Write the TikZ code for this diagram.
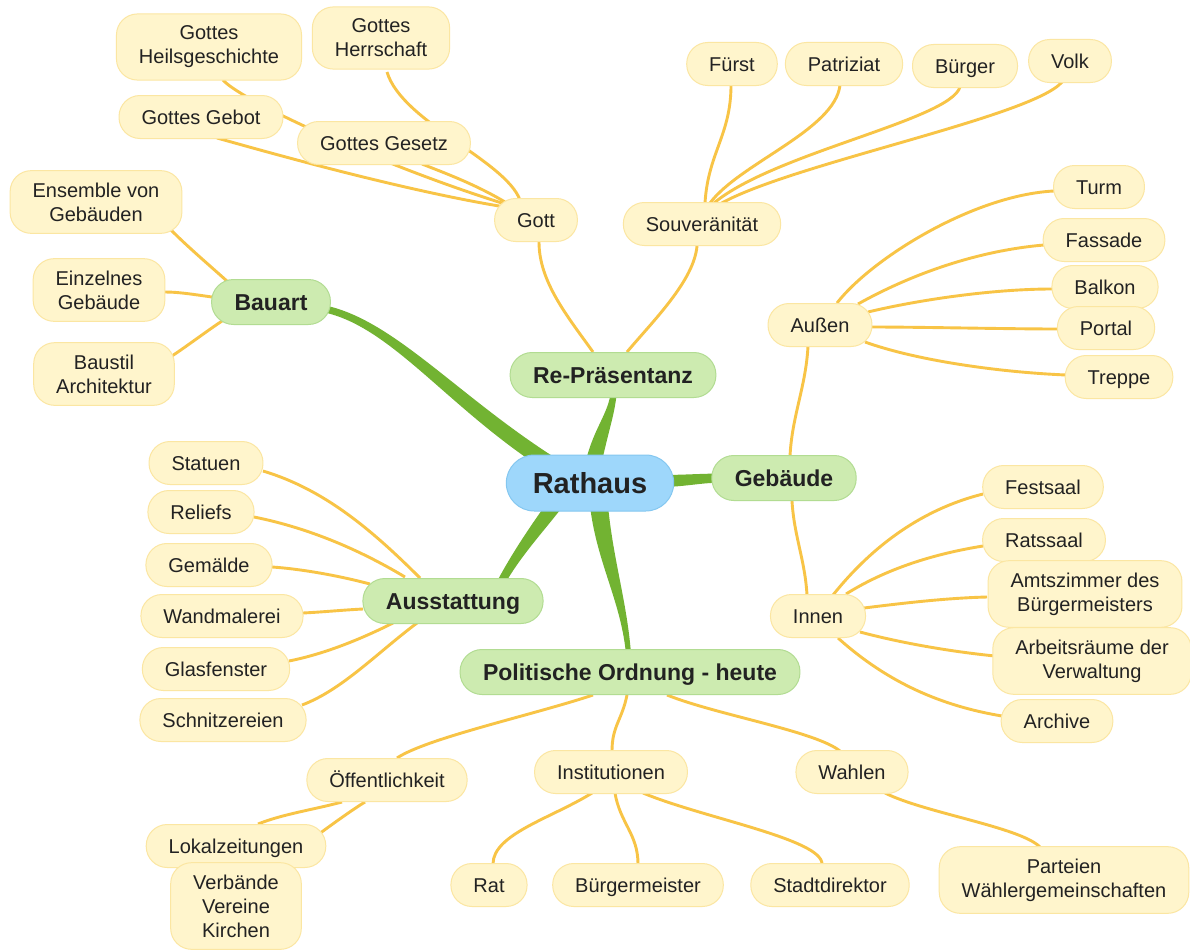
\documentclass[tikz,border=0pt]{standalone}
\usepackage{fontspec}
\setmainfont{Liberation Sans}
\usetikzlibrary{calc,backgrounds}
\definecolor{ylfill}{HTML}{FFF5CC}
\definecolor{yldraw}{HTML}{FBE6A2}
\definecolor{ylline}{HTML}{F8C446}
\definecolor{grfill}{HTML}{CDEBB0}
\definecolor{grdraw}{HTML}{B2DC92}
\definecolor{grline}{HTML}{72B332}
\definecolor{blfill}{HTML}{9ED7FB}
\definecolor{bldraw}{HTML}{84C7F0}
\definecolor{txt}{HTML}{222222}
\tikzset{
  base/.style={rectangle, text=txt, line width=1pt},
  leaf/.style={base, fill=ylfill, draw=yldraw, rounded corners=21pt, minimum height=43pt,
    inner xsep=22.5pt, inner ysep=12pt, font=\fontsize{20}{24}\selectfont, align=center},
  leafone/.style={base, fill=ylfill, draw=yldraw, rounded corners=21pt, minimum height=43pt,
    inner xsep=22.5pt, inner ysep=0pt, font=\fontsize{20}{24}\selectfont, text height=14.4pt, text depth=0pt},
  mainnode/.style={base, fill=grfill, draw=grdraw, rounded corners=22pt, minimum height=45pt,
    inner xsep=23pt, inner ysep=0pt, font=\fontsize{23}{27}\selectfont\bfseries, text height=16.6pt, text depth=0pt},
  rootnode/.style={base, fill=blfill, draw=bldraw, rounded corners=28pt, minimum height=56pt,
    inner xsep=26.5pt, inner ysep=0pt, font=\fontsize{29}{34}\selectfont\bfseries, text height=21pt, text depth=0pt},
  conn/.style={draw=ylline, line width=2.9pt},
}
\newcommand\gbranch[6]{%
  \fill[grline] ($(#1)!#5!90:(#2)$) .. controls ($(#2)!#5!-90:(#1)$) and ($(#3)!#6!90:(#4)$) .. ($(#4)!#6!-90:(#3)$)
   -- ($(#4)!#6!90:(#3)$) .. controls ($(#3)!#6!-90:(#4)$) and ($(#2)!#5!90:(#1)$) .. ($(#1)!#5!-90:(#2)$) -- cycle;}
\begin{document}
\begin{tikzpicture}[x=1pt,y=-1pt]
\useasboundingbox (0,0) rectangle (1190,950);
% main nodes
\node[rootnode] (rat) at (590,483) {Rathaus};
\node[mainnode] (bau) at (271,302) {Bauart};
\node[mainnode] (rep) at (613,375) {Re-Präsentanz};
\node[mainnode] (geb) at (784,478) {Gebäude};
\node[mainnode] (aus) at (453,601) {Ausstattung};
\node[mainnode] (pol) at (630,672) {Politische Ordnung - heute};
% Gott
\node[leaf] (heil) at (209,47) {Gottes\\Heilsgeschichte};
\node[leaf] (herr) at (381,38) {Gottes\\Herrschaft};
\node[leafone] (gebot) at (201,117) {Gottes Gebot};
\node[leafone] (gesetz) at (384,143) {Gottes Gesetz};
\node[leafone] (gott) at (536,220) {Gott};
% Bauart
\node[leaf] (ens) at (96,202) {Ensemble von\\Gebäuden};
\node[leaf] (einz) at (99,290) {Einzelnes\\Gebäude};
\node[leaf] (baustil) at (104,374) {Baustil\\Architektur};
% Souveraenitaet
\node[leafone] (souv) at (702,224) {Souveränität};
\node[leafone] (fuerst) at (732,64) {Fürst};
\node[leafone] (patr) at (844,64) {Patriziat};
\node[leafone] (buerger) at (965,66) {Bürger};
\node[leafone] (volk) at (1070,61) {Volk};
% Aussen
\node[leafone] (aussen) at (820,325) {Außen};
\node[leafone] (turm) at (1099,187) {Turm};
\node[leafone] (fassade) at (1104,240) {Fassade};
\node[leafone] (balkon) at (1105,287) {Balkon};
\node[leafone] (portal) at (1106,328) {Portal};
\node[leafone] (treppe) at (1119,377) {Treppe};
% Innen
\node[leafone] (innen) at (818,616) {Innen};
\node[leafone] (festsaal) at (1043,487) {Festsaal};
\node[leafone] (ratssaal) at (1044,540) {Ratssaal};
\node[leaf] (amts) at (1085,594) {Amtszimmer des\\Bürgermeisters};
\node[leaf] (arbeit) at (1092,661) {Arbeitsräume der\\Verwaltung};
\node[leafone] (archive) at (1057,721) {Archive};
% Ausstattung
\node[leafone] (statuen) at (206,463) {Statuen};
\node[leafone] (reliefs) at (201,512) {Reliefs};
\node[leafone] (gemaelde) at (209,565) {Gemälde};
\node[leafone] (wand) at (222,616) {Wandmalerei};
\node[leafone] (glas) at (216,669) {Glasfenster};
\node[leafone] (schnitz) at (223,720) {Schnitzereien};
% Politische Ordnung
\node[leafone] (oeff) at (387,780) {Öffentlichkeit};
\node[leafone] (lokal) at (236,846) {Lokalzeitungen};
\node[leaf] (verb) at (236,906) {Verbände\\Vereine\\Kirchen};
\node[leafone] (inst) at (611,772) {Institutionen};
\node[leafone] (wahlen) at (852,772) {Wahlen};
\node[leafone] (rat2) at (489,885) {Rat};
\node[leafone] (bm) at (638,885) {Bürgermeister};
\node[leafone] (stadt) at (830,885) {Stadtdirektor};
\node[leaf] (part) at (1064,880) {Parteien\\Wählergemeinschaften};

\begin{pgfonlayer}{background}
\fill[white] (0,0) rectangle (1190,950);
% green branches
\coordinate (b1a) at ($(rat)+(-40,-19)$);
\coordinate (b1b) at ($(rat)+(-140,-83)$);
\coordinate (b1c) at ($(bau)+(119,18)$);
\coordinate (b1d) at ($(bau)+(49,6)$);
\gbranch{b1a}{b1b}{b1c}{b1d}{8pt}{3.5pt}
\coordinate (b2a) at ($(rat)+(2,-13)$);
\coordinate (b2b) at ($(rat)+(10,-53)$);
\coordinate (b2c) at ($(rep)+(-1,40)$);
\coordinate (b2d) at ($(rep)+(1,15)$);
\gbranch{b2a}{b2b}{b2c}{b2d}{8pt}{3pt}
\coordinate (b3a) at ($(rat)+(70,-2)$);
\coordinate (b3b) at ($(rat)+(95,-2)$);
\coordinate (b3c) at ($(geb)+(-84,0)$);
\coordinate (b3d) at ($(geb)+(-59,0)$);
\gbranch{b3a}{b3b}{b3c}{b3d}{6pt}{4.5pt}
\coordinate (b4a) at ($(rat)+(-28,12)$);
\coordinate (b4b) at ($(rat)+(-50,42)$);
\coordinate (b4c) at ($(aus)+(62,-46)$);
\coordinate (b4d) at ($(aus)+(44,-11)$);
\gbranch{b4a}{b4b}{b4c}{b4d}{7.5pt}{4pt}
\coordinate (b5a) at ($(rat)+(8,12)$);
\coordinate (b5b) at ($(rat)+(13,77)$);
\coordinate (b5c) at ($(pol)+(-5,-72)$);
\coordinate (b5d) at ($(pol)+(-1,-12)$);
\gbranch{b5a}{b5b}{b5c}{b5d}{9pt}{2.5pt}
% Bauart
\draw[conn] ($(bau)+(-43,-20)$) .. controls +(-20,-18) and +(18,18) .. ($(ens)+(75,28)$);
\draw[conn] ($(bau)+(-59,-5)$) .. controls +(-15,-2) and +(15,0) .. ($(einz)+(66,2)$);
\draw[conn] ($(bau)+(-49,19)$) .. controls +(-15,10) and +(15,-10) .. ($(baustil)+(68,-18)$);
% Re-Praesentanz
\draw[conn] ($(rep)+(-20,-23)$) .. controls +(-25,-35) and +(0,40) .. ($(gott)+(3,22)$);
\draw[conn] ($(rep)+(14,-23)$) .. controls +(25,-30) and +(-3,35) .. ($(souv)+(-5,22)$);
% Souveraenitaet
\draw[conn] ($(souv)+(3,-21)$) .. controls +(3,-50) and +(0,50) .. ($(fuerst)+(-1,21)$);
\draw[conn] ($(souv)+(8,-21)$) .. controls +(30,-40) and +(-5,45) .. ($(patr)+(-4,21)$);
\draw[conn] ($(souv)+(12,-21)$) .. controls +(60,-50) and +(-10,33) .. ($(buerger)+(-5,21)$);
\draw[conn] ($(souv)+(18,-20)$) .. controls +(70,-40) and +(-30,35) .. ($(volk)+(-8,21)$);
% Gott
\draw[conn] ($(gott)+(-16,-20)$) .. controls +(-15,-40) and +(15,50) .. ($(herr)+(6,34)$);
\draw[conn] ($(gott)+(-31,-18)$) .. controls +(-30,-18) and +(20,8) .. ($(gesetz)+(38,21)$);
\draw[conn] ($(gott)+(-31,-16)$) .. controls +(-125,-39) and +(17,20) .. ($(heil)+(14,33)$);
\draw[conn] ($(gott)+(-31,-13)$) .. controls +(-105,-17) and +(43,12) .. ($(gebot)+(16,21)$);
% Gebaeude
\draw[conn] ($(geb)+(6,-22)$) .. controls +(2,-40) and +(-2,40) .. ($(aussen)+(-12,21)$);
\draw[conn] ($(geb)+(8,23)$) .. controls +(2,35) and +(-2,-35) .. ($(innen)+(-11,-21)$);
% Aussen
\draw[conn] ($(aussen)+(17,-22)$) .. controls +(35,-45) and +(-80,4) .. ($(turm)+(-45,4)$);
\draw[conn] ($(aussen)+(38,-21)$) .. controls +(50,-28) and +(-70,6) .. ($(fassade)+(-60,5)$);
\draw[conn] ($(aussen)+(48,-13)$) .. controls +(50,-12) and +(-60,0) .. ($(balkon)+(-53,2)$);
\draw[conn] ($(aussen)+(51,2)$) .. controls +(50,0) and +(-50,0) .. ($(portal)+(-48,1)$);
\draw[conn] ($(aussen)+(45,17)$) .. controls +(50,18) and +(-70,-3) .. ($(treppe)+(-53,-2)$);
% Innen
\draw[conn] ($(innen)+(15,-21)$) .. controls +(40,-50) and +(-60,15) .. ($(festsaal)+(-60,7)$);
\draw[conn] ($(innen)+(28,-22)$) .. controls +(40,-25) and +(-50,8) .. ($(ratssaal)+(-61,6)$);
\draw[conn] ($(innen)+(46,-8)$) .. controls +(40,-5) and +(-40,1) .. ($(amts)+(-98,3)$);
\draw[conn] ($(innen)+(42,16)$) .. controls +(45,12) and +(-40,-4) .. ($(arbeit)+(-97,-5)$);
\draw[conn] ($(innen)+(20,22)$) .. controls +(50,45) and +(-60,-10) .. ($(archive)+(-55,-5)$);
% Ausstattung
\draw[conn] ($(aus)+(-33,-23)$) .. controls +(-50,-50) and +(60,18) .. ($(statuen)+(57,8)$);
\draw[conn] ($(aus)+(-48,-24)$) .. controls +(-50,-30) and +(50,10) .. ($(reliefs)+(53,5)$);
\draw[conn] ($(aus)+(-83,-17)$) .. controls +(-30,-8) and +(30,2) .. ($(gemaelde)+(63,2)$);
\draw[conn] ($(aus)+(-90,8)$) .. controls +(-20,1) and +(20,-1) .. ($(wand)+(81,-3)$);
\draw[conn] ($(aus)+(-60,22)$) .. controls +(-40,20) and +(30,-6) .. ($(glas)+(73,-8)$);
\draw[conn] ($(aus)+(-36,22)$) .. controls +(-40,30) and +(40,-15) .. ($(schnitz)+(79,-15)$);
% Politische Ordnung
\draw[conn] ($(pol)+(-37,23)$) .. controls +(-60,20) and +(30,-20) .. ($(oeff)+(10,-22)$);
\draw[conn] ($(pol)+(-3,23)$) .. controls +(-5,25) and +(0,-25) .. ($(inst)+(1,-21)$);
\draw[conn] ($(pol)+(37,23)$) .. controls +(50,20) and +(-25,-20) .. ($(wahlen)+(-12,-21)$);
\draw[conn] ($(oeff)+(-45,22)$) .. controls +(-30,8) and +(25,-10) .. ($(lokal)+(22,-22)$);
\draw[conn] ($(oeff)+(-22,22)$) .. controls +(-20,12) and +(20,-15) .. ($(verb)+(40,-40)$);
\draw[conn] ($(inst)+(-19,21)$) .. controls +(-40,25) and +(0,-30) .. ($(rat2)+(4,-21)$);
\draw[conn] ($(inst)+(4,21)$) .. controls +(5,30) and +(0,-30) .. ($(bm)+(0,-21)$);
\draw[conn] ($(inst)+(32,21)$) .. controls +(60,25) and +(0,-25) .. ($(stadt)+(-8,-21)$);
\draw[conn] ($(wahlen)+(33,21)$) .. controls +(40,20) and +(-20,-20) .. ($(part)+(-24,-33)$);
\end{pgfonlayer}
\end{tikzpicture}
\end{document}
